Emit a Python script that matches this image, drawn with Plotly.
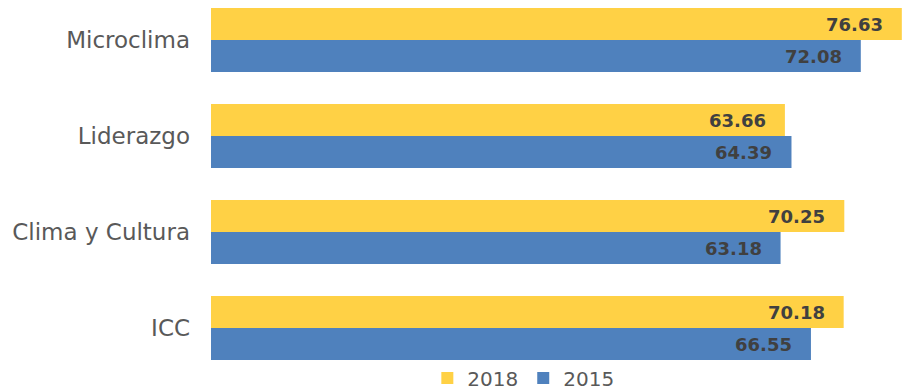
import plotly.graph_objects as go

categories = ["Microclima", "Liderazgo", "Clima y Cultura", "ICC"]
values_2018 = [76.63, 63.66, 70.25, 70.18]
values_2015 = [72.08, 64.39, 63.18, 66.55]

yellow = "#FFD145"
blue = "#4F81BD"
label_color = "#404040"

fig = go.Figure()
fig.add_trace(go.Bar(name="2018", y=categories, x=values_2018, orientation="h",
                     marker=dict(color=yellow, line=dict(width=0))))
fig.add_trace(go.Bar(name="2015", y=categories, x=values_2015, orientation="h",
                     marker=dict(color=blue, line=dict(width=0))))

# value labels sit inside the bar ends
for series, shift in ((values_2018, 16), (values_2015, -16)):
    for cat, v in zip(categories, series):
        fig.add_annotation(x=v, y=cat, xref="x", yref="y", text=f"<b>{v:.2f}</b>",
                           showarrow=False, xanchor="right", yanchor="middle",
                           xshift=-17, yshift=shift,
                           font=dict(family="DejaVu Sans", size=18, color=label_color))

fig.update_layout(
    width=902, height=390,
    margin=dict(l=211, r=0, t=0, b=21, autoexpand=False),
    paper_bgcolor="white", plot_bgcolor="white",
    barmode="group", bargap=1/3, bargroupgap=0,
    showlegend=True,
    legend=dict(orientation="h", x=0.452, xanchor="center",
                yref="container", y=0.031, yanchor="middle",
                bgcolor="rgba(0,0,0,0)",
                font=dict(family="DejaVu Sans", size=20, color="#595959"),
                itemwidth=30, traceorder="normal"),
    xaxis=dict(range=[0, 76.65], showgrid=False, zeroline=False, showticklabels=False,
               showline=False, ticks=""),
    yaxis=dict(categoryorder="array", categoryarray=categories,
               range=[3.427, -0.4167], showgrid=False, zeroline=False, showline=False,
               ticks="", ticklabelstandoff=20,
               tickfont=dict(family="DejaVu Sans", size=23, color="#595959")),
)

fig.write_html("out.html")
